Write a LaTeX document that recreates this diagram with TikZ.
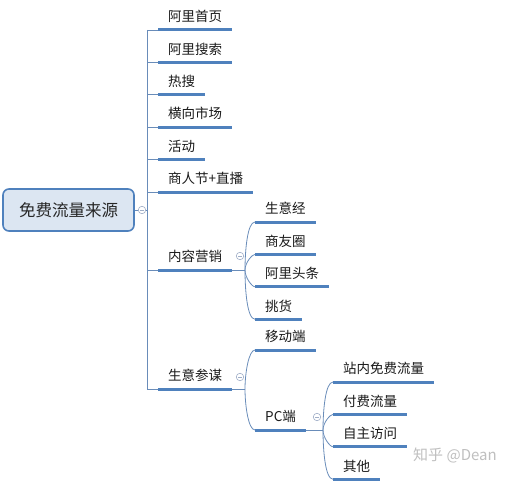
\documentclass[tikz,border=0pt]{standalone}
\usepackage{fontspec}
\setmainfont{Noto Sans CJK SC}
\usetikzlibrary{positioning}

\definecolor{lineblue}{RGB}{79,129,189}
\definecolor{linkblue}{RGB}{105,140,185}
\definecolor{rootfill}{RGB}{220,230,242}
\definecolor{foldgray}{RGB}{160,175,200}

\begin{document}
\begin{tikzpicture}[x=1pt, y=1pt,
    root/.style = {draw=lineblue, line width=1.6pt, fill=rootfill, rounded corners=6pt, minimum width=131pt, minimum height=42pt, font=\fontsize{16.5}{20}\selectfont, text=black!85},
    item/.style = {anchor=south west, inner xsep=10pt, inner ysep=4pt, text height=10pt, text depth=4pt, font=\fontsize{13.5}{16}\selectfont, text=black!90},
    sib/.style = {below=10pt of #1.south west, anchor=north west},
    uline/.style = {lineblue, line width=3pt},
    link/.style = {linkblue, line width=0.8pt},
    fold/.style = {draw=foldgray, fill=white, circle, inner sep=0pt, minimum size=7.5pt, line width=0.6pt,
      path picture={\draw[foldgray, line width=0.6pt] ([xshift=1.8pt]path picture bounding box.west) -- ([xshift=-1.8pt]path picture bounding box.east);}},
    fanup/.style = {out=90, in=180, in looseness=0.4},
    fandown/.style = {out=-90, in=180, in looseness=0.4}]
      \useasboundingbox (0,0) rectangle (510,480);
      \node[root] (src) at (68.5,270) {免费流量来源};
      \coordinate (t) at (147,270);
      % first level
      \node[item] (a1) at (158,450) {阿里首页};
      \node[item, sib=a1] (a2) {阿里搜索};
      \node[item, sib=a2] (a3) {热搜};
      \node[item, sib=a3] (a4) {横向市场};
      \node[item, sib=a4] (a5) {活动};
      \node[item, sib=a5] (a6) {商人节+直播};
      \node[item] (b) at (158,210) {内容营销};
      \node[item] (c) at (158,91) {生意参谋};
      % second level
      \node[item] (b1) at (255,258) {生意经};
      \node[item, sib=b1] (b2) {商友圈};
      \node[item, sib=b2] (b3) {阿里头条};
      \node[item, sib=b3] (b4) {挑货};
      \node[item] (c1) at (255,130) {移动端};
      \node[item] (c2) at (255,50) {PC端};
      % third level
      \node[item] (d1) at (333,98) {站内免费流量};
      \node[item, sib=d1] (d2) {付费流量};
      \node[item, sib=d2] (d3) {自主访问};
      \node[item, sib=d3] (d4) {其他};
      \coordinate (bj) at (245,210);
      \coordinate (cj) at (245,91);
      \coordinate (dj) at (323,50);
      % connectors
      \draw[link] (src) -- (t);
      \draw[link] (a1.south west -| t) -- (c.south west -| t);
      \foreach \n in {a1,a2,a3,a4,a5,a6,b,c}
        \draw[link] (\n.south west -| t) -- (\n.south west);
      \draw[link] (b.south east) -- (bj);
      \draw[link] (bj) to[fanup] (b1.south west);
      \draw[link] (bj) to[fanup] (b2.south west);
      \draw[link] (bj) to[fandown] (b3.south west);
      \draw[link] (bj) to[fandown] (b4.south west);
      \draw[link] (c.south east) -- (cj);
      \draw[link] (cj) to[fanup] (c1.south west);
      \draw[link] (cj) to[fandown] (c2.south west);
      \draw[link] (c2.south east) -- (dj);
      \draw[link] (dj) to[fanup] (d1.south west);
      \draw[link] (dj) to[fanup] (d2.south west);
      \draw[link] (dj) to[fandown] (d3.south west);
      \draw[link] (dj) to[fandown] (d4.south west);
      \foreach \n in {a1,a2,a3,a4,a5,a6,b,c,b1,b2,b3,b4,c1,c2,d1,d2,d3,d4}
        \draw[uline] (\n.south west) -- (\n.south east);
      % fold marks
      \node[fold] (f0) at (142,270) {};
      \node[fold] (fb) at (240,224) {};
      \node[fold] (fc) at (240,103) {};
      \node[fold] (fd) at (317,63) {};
      \node[text=black!25, font=\fontsize{15}{18}\selectfont] (mark) at (455,25) {知乎 @Dean};
\end{tikzpicture}
\end{document}
